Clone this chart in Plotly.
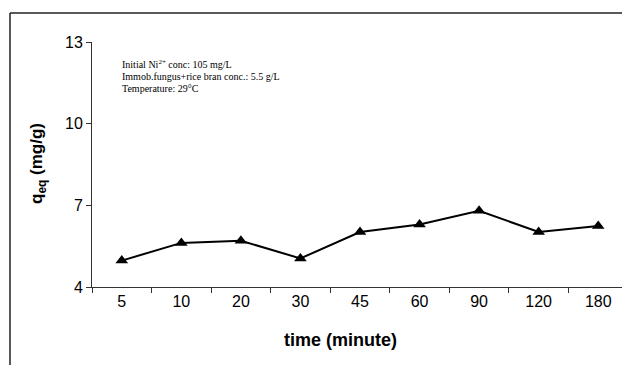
import plotly.graph_objects as go

time_labels = ["5", "10", "20", "30", "45", "60", "90", "120", "180"]
q_eq = [4.97, 5.62, 5.70, 5.05, 6.02, 6.30, 6.80, 6.02, 6.24]
y_ticks = [4, 7, 10, 13]
info_lines = [
    "Initial Ni<sup>2+</sup> conc: 105 mg/L",
    "Immob.fungus+rice bran conc.: 5.5 g/L",
    "Temperature: 29°C",
]

# page has an 8px body margin; work in page pixels and shift
OFF = 8
W, H = 630 - OFF, 365 - OFF
L, R, T, B = 92 - OFF, 2, 42 - OFF, 78
pw, ph = W - L - R, H - T - B

def px(x):
    return (x - OFF - L) / pw

def py(y):
    return (H - B - (y - OFF)) / ph

fig = go.Figure()
fig.add_trace(go.Scatter(
    x=time_labels, y=q_eq, mode="lines+markers",
    line=dict(color="black", width=2),
    marker=dict(symbol="triangle-up", size=11, color="black"),
    showlegend=False, cliponaxis=False,
))

fig.update_layout(
    width=W, height=H,
    margin=dict(l=L, r=R, t=T, b=B),
    paper_bgcolor="white", plot_bgcolor="white",
    font=dict(family="Liberation Sans, Arial", size=16, color="black"),
    xaxis=dict(
        type="category", range=[-0.5, 8.5],
        tickson="boundaries", ticks="outside", ticklen=5, tickcolor="#333",
        showline=True, linecolor="#333", linewidth=1, showgrid=False,
        zeroline=False, tickfont=dict(size=16),
    ),
    yaxis=dict(
        range=[4, 13], tickvals=y_ticks, ticks="outside", ticklen=5,
        tickcolor="#333", showline=True, linecolor="#333", linewidth=1,
        showgrid=False, zeroline=False, tickfont=dict(size=16),
    ),
    showlegend=False,
)

# axis titles
fig.add_annotation(
    text="<b>time (minute)</b>", xref="paper", yref="paper",
    x=px(340), y=py(340), showarrow=False, font=dict(size=18),
    xanchor="center", yanchor="middle",
)
fig.add_annotation(
    text="<b>q<sub>eq</sub> (mg/g)</b>", xref="paper", yref="paper",
    x=px(38), y=py(164), showarrow=False, textangle=-90, font=dict(size=17),
    xanchor="center", yanchor="middle",
)

# info text, one line per annotation for tight spacing
for i, line in enumerate(info_lines):
    fig.add_annotation(
        text=line, xref="paper", yref="paper", x=px(120), y=py(64 + 12 * i),
        showarrow=False, align="left", xanchor="left", yanchor="middle",
        font=dict(family="Liberation Serif, Times New Roman", size=10),
    )

# outer frame (top and left edges visible)
fig.add_shape(type="line", xref="paper", yref="paper",
              x0=px(10), x1=px(640), y0=py(13), y1=py(13),
              line=dict(color="#222", width=1.5))
fig.add_shape(type="line", xref="paper", yref="paper",
              x0=px(10), x1=px(10), y0=py(13), y1=py(370),
              line=dict(color="#222", width=1.5))

fig.write_html("out.html")
